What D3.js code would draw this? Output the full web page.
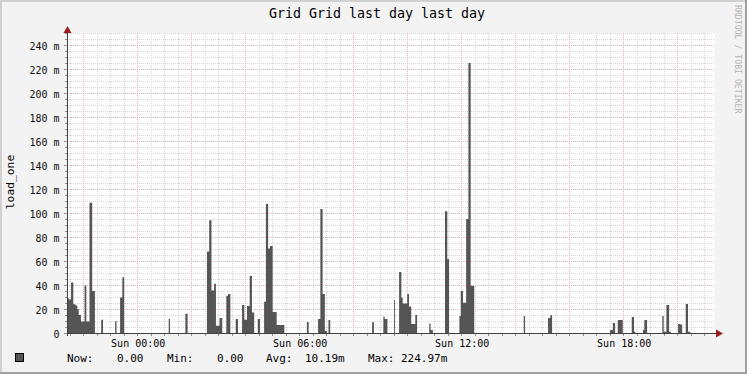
<!DOCTYPE html>
<html>
<head>
<meta charset="utf-8">
<script src="https://cdn.jsdelivr.net/npm/d3@7"></script>
<style>
  body { margin: 0; background: #f3f3f3; }
  svg text { font-family: "DejaVu Sans Mono", monospace; }
</style>
</head>
<body>
<div id="chart"></div>
<script>
// load_one samples: minutes from Sun 00:00, each value holds until the next time (milli-units)
const loadTimes = [-158, -152, -147, -142, -137, -133, -130, -125, -117, -113, -106, -100, -94,
  -80, -76, -49, -46, -38, -33, -29, 70, 73, 107, 112,
  155, 160, 165, 171, 175, 183, 189, 198, 202, 207, 219, 224,
  233, 238, 244, 250, 255, 260, 268, 273,
  282, 286, 291, 295, 301, 310, 327, 377, 381,
  402, 407, 412, 417, 422, 425, 429, 522, 526, 547, 550, 556, 571, 573,
  582, 587, 590, 600, 604, 609, 618, 622, 649, 652, 657,
  684, 689, 693, 716, 719, 724, 731, 736, 741, 749,
  859, 862, 913, 918, 922, 1051, 1057, 1062, 1068, 1079,
  1099, 1104, 1107, 1124, 1127, 1133, 1167, 1170, 1176, 1182, 1186,
  1202, 1207, 1211, 1219, 1224, 1229];
const loadValues = [29, 28, 42, 24, 23, 20, 15, 9.5, 39.5, 9.5, 108.5, 35, 0,
  11, 0, 10, 0, 29.5, 46.5, 0, 11.7, 0, 16, 0,
  68, 94, 35.5, 41, 6, 12.5, 0, 31, 32.5, 0, 11.7, 0,
  23.3, 11, 22.5, 47.5, 17, 0, 11.7, 0,
  26, 107.5, 70.5, 72.5, 17.5, 6.7, 0, 9.2, 0,
  11.7, 103.3, 32.5, 1.7, 0, 10.8, 0, 9, 0, 13.6, 11.7, 0, 27.5, 0,
  50.8, 29.4, 24.5, 32.5, 22, 7.5, 15, 0, 8, 2.5, 0,
  101.4, 61.7, 0, 14.2, 35, 25.3, 95, 225, 39.4, 0,
  14.2, 0, 12.5, 14.7, 0, 2.5, 8.3, 0, 10.8, 0,
  13.3, 1, 0, 2.5, 10.8, 0, 14.2, 1, 23.3, 1, 0,
  7.5, 7, 0, 24.2, 1, 0];

const yTicks = [0, 20, 40, 60, 80, 100, 120, 140, 160, 180, 200, 220, 240];
const legendLabels = ["Now:", "Min:", "Avg:", "Max:"];
const legendValues = ["0.00", "0.00", "10.19m", "224.97m"];

const W = 747, H = 374;
const pLeft = 67, pRight = 715, pTop = 33, pBottom = 333;
const midnight = new Date(2023, 0, 1, 0, 0);
const t0 = d3.timeMinute.offset(midnight, -156);
const t1 = d3.timeMinute.offset(midnight, 1284);

const svg = d3.select("#chart").append("svg")
  .attr("width", W).attr("height", H);

svg.append("rect").attr("width", W).attr("height", H).attr("fill", "#f3f3f3");
svg.append("rect").attr("x", 0).attr("y", 0).attr("width", W).attr("height", 2).attr("fill", "#d0d0d0");
svg.append("rect").attr("x", 0).attr("y", 0).attr("width", 2).attr("height", H).attr("fill", "#d0d0d0");
svg.append("rect").attr("x", 0).attr("y", H - 2).attr("width", W).attr("height", 2).attr("fill", "#a0a0a0");
svg.append("rect").attr("x", W - 2).attr("y", 0).attr("width", 2).attr("height", H).attr("fill", "#a0a0a0");

const x = d3.scaleTime().domain([t0, t1]).range([pLeft, pRight]);
const y = d3.scaleLinear().domain([0, 250]).range([pBottom, pTop]);

svg.append("rect").attr("x", pLeft).attr("y", pTop)
  .attr("width", pRight - pLeft).attr("height", pBottom - pTop).attr("fill", "#ffffff");

// grid
const grid = svg.append("g").attr("shape-rendering", "crispEdges");
const minorX = d3.timeMinute.every(30).range(t0, t1);
const majorX = d3.timeHour.every(2).range(t0, t1);
grid.selectAll(".mx").data(minorX).join("line")
  .attr("x1", d => Math.round(x(d)) + 0.5).attr("x2", d => Math.round(x(d)) + 0.5)
  .attr("y1", pTop).attr("y2", pBottom)
  .attr("stroke", "#d6d6d6").attr("stroke-dasharray", "1,1");
grid.selectAll(".my").data(d3.range(5, 251, 5)).join("line")
  .attr("x1", pLeft).attr("x2", pRight)
  .attr("y1", d => Math.round(y(d)) + 0.5).attr("y2", d => Math.round(y(d)) + 0.5)
  .attr("stroke", "#d6d6d6").attr("stroke-dasharray", "1,1");
grid.selectAll(".Mx").data(majorX).join("line")
  .attr("x1", d => Math.round(x(d)) + 0.5).attr("x2", d => Math.round(x(d)) + 0.5)
  .attr("y1", pTop).attr("y2", pBottom)
  .attr("stroke", "#e4b0b0").attr("stroke-dasharray", "1,1");
grid.selectAll(".My").data(yTicks.filter(d => d > 0)).join("line")
  .attr("x1", pLeft).attr("x2", pRight)
  .attr("y1", d => Math.round(y(d)) + 0.5).attr("y2", d => Math.round(y(d)) + 0.5)
  .attr("stroke", "#e4b0b0").attr("stroke-dasharray", "1,1");

// data area
const pts = loadTimes.map((m, i) => ({ t: d3.timeMinute.offset(midnight, m), v: loadValues[i] }));
svg.append("clipPath").attr("id", "clip").append("rect")
  .attr("x", pLeft).attr("y", pTop - 5).attr("width", pRight - pLeft).attr("height", pBottom - pTop + 5);
const area = d3.area().curve(d3.curveStepAfter)
  .x(d => x(d.t)).y0(y(0)).y1(d => y(d.v));
svg.append("path").datum(pts).attr("clip-path", "url(#clip)")
  .attr("d", area).attr("fill", "#555555");

// axes
const axis = svg.append("g").attr("shape-rendering", "crispEdges");
axis.append("line").attr("x1", pLeft + 0.5).attr("x2", pLeft + 0.5)
  .attr("y1", pBottom + 3).attr("y2", 29).attr("stroke", "#404040");
axis.append("line").attr("x1", pLeft - 3).attr("x2", pRight + 3)
  .attr("y1", pBottom + 0.5).attr("y2", pBottom + 0.5).attr("stroke", "#404040");
axis.selectAll(".yt").data(d3.range(0, 251, 5)).join("line")
  .attr("x1", d => d % 20 === 0 ? pLeft - 3 : pLeft - 2).attr("x2", pLeft)
  .attr("y1", d => Math.round(y(d)) + 0.5).attr("y2", d => Math.round(y(d)) + 0.5)
  .attr("stroke", "#909090");
axis.selectAll(".xt").data(minorX).join("line")
  .attr("x1", d => Math.round(x(d)) + 0.5).attr("x2", d => Math.round(x(d)) + 0.5)
  .attr("y1", pBottom + 1).attr("y2", pBottom + 3)
  .attr("stroke", "#909090");
svg.append("path").attr("d", `M${pLeft - 3.5},${33}L${pLeft + 0.5},${26}L${pLeft + 4.5},${33}Z`).attr("fill", "#9a1c1c");
svg.append("path").attr("d", `M${pRight + 1},${pBottom - 3.5}L${pRight + 8},${pBottom + 0.5}L${pRight + 1},${pBottom + 4.5}Z`).attr("fill", "#9a1c1c");

// tick labels
svg.selectAll(".yl").data(yTicks).join("text")
  .attr("x", 59.5).attr("y", d => y(d) + 4.5)
  .attr("text-anchor", "end").attr("font-size", 10).attr("fill", "#111")
  .text(d => d === 0 ? "0" : d + " m");
const fmt = d3.timeFormat("Sun %H:%M");
svg.selectAll(".xl").data(d3.timeHour.every(6).range(t0, t1)).join("text")
  .attr("x", d => x(d) + 1).attr("y", 346.5)
  .attr("text-anchor", "middle").attr("font-size", 10).attr("fill", "#000")
  .text(fmt);

// titles
svg.append("text").attr("x", 377).attr("y", 18).attr("text-anchor", "middle")
  .attr("font-size", 13.3).text("Grid Grid last day last day");
svg.append("text").attr("transform", "translate(14,182) rotate(-90)")
  .attr("text-anchor", "middle").attr("font-size", 11.3).text("load_one");
svg.append("text").attr("transform", "translate(735,5) rotate(90)")
  .attr("font-size", 8.2).attr("fill", "#b4b4b4").text("RRDTOOL / TOBI OETIKER");

// legend
svg.append("rect").attr("x", 15.5).attr("y", 353.5).attr("width", 8).attr("height", 8)
  .attr("fill", "#555555").attr("stroke", "#000");
const labelX = [67, 167, 266, 368];
const valueX = [117, 217, 305, 401];
svg.selectAll(".lgl").data(legendLabels).join("text")
  .attr("x", (d, i) => labelX[i]).attr("y", 362).attr("font-size", 11).text(d => d);
svg.selectAll(".lgv").data(legendValues).join("text")
  .attr("x", (d, i) => valueX[i]).attr("y", 362).attr("font-size", 11).text(d => d);
</script>
</body>
</html>
